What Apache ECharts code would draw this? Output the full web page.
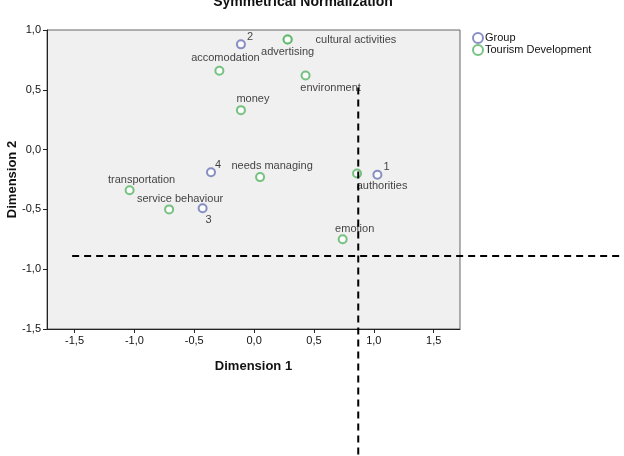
<!DOCTYPE html>
<html>
<head>
<meta charset="utf-8">
<script src="https://cdn.jsdelivr.net/npm/echarts@6/dist/echarts.min.js"></script>
<style>
html, body { margin: 0; padding: 0; background: #fff; }
#main { width: 624px; height: 456px; }
</style>
</head>
<body>
<div id="main"></div>
<script>
// row points (Group)
var groupNames = ['1', '2', '3', '4'];
var groupX = [1.03, -0.11, -0.43, -0.36];
var groupY = [-0.21, 0.88, -0.49, -0.19];

// column points (Tourism Development)
var tourismNames = ['cultural activities', 'advertising', 'accomodation', 'environment', 'money',
	'needs managing', 'authorities', 'transportation', 'service behaviour', 'emotion'];
var tourismX = [0.28, 0.28, -0.29, 0.43, -0.11, 0.05, 0.86, -1.04, -0.71, 0.74];
var tourismY = [0.92, 0.92, 0.66, 0.62, 0.33, -0.23, -0.20, -0.34, -0.50, -0.75];

var xTickValues = [-1.5, -1.0, -0.5, 0, 0.5, 1.0, 1.5];

// hand drawn cut lines
var cutX = 0.87;
var cutY = -0.89;
var cutXFrom = 0.52;
var cutYFrom = -1.52;

var font = 'Liberation Sans, Arial, sans-serif';

// where each point's label sits: [position, offset, distance]
var labelPlace = {
	'1': ['right', [0, -8], 1],
	'2': ['right', [0, -7], 1],
	'3': ['bottom', [6, 0], 1],
	'4': ['right', [-2, -7], 1],
	'cultural activities': ['right', [18, 0], 5],
	'advertising': ['bottom', [0, 1], 1],
	'accomodation': ['top', [6, 0], 2],
	'environment': ['bottom', [25, 0], 2],
	'money': ['top', [12, 0], 1],
	'needs managing': ['top', [12, 0], 1],
	'authorities': ['bottom', [25, 1], 1],
	'transportation': ['top', [12, 2], 2],
	'service behaviour': ['top', [11, 2], 2],
	'emotion': ['top', [12, 1], 1]
};

function buildPoints(names, xs, ys) {
	var out = [];
	for (var i = 0; i < names.length; i++) {
		var p = labelPlace[names[i]];
		out.push({
			name: names[i],
			value: [xs[i], ys[i]],
			label: { position: p[0], offset: p[1], distance: p[2] }
		});
	}
	return out;
}

function fmt(v) {
	return v.toFixed(1).replace('.', ',');
}

var myChart = echarts.init(document.getElementById('main'));
var option = {
	animation: false,
	textStyle: { fontFamily: font },
	title: {
		text: 'Symmetrical Normalization',
		left: 298,
		top: -10,
		textAlign: 'center',
		textStyle: { fontFamily: font, fontSize: 14, fontWeight: 'bold', color: '#111' }
	},
	legend: {
		orient: 'vertical',
		left: 467,
		top: 27,
		itemWidth: 10,
		itemHeight: 10,
		itemGap: 0,
		textStyle: { fontFamily: font, fontSize: 11, lineHeight: 12, color: '#111', padding: [0, 0, 0, -3] },
		data: [
			{ name: 'Group', icon: 'emptyCircle' },
			{ name: 'Tourism Development', icon: 'emptyCircle' }
		]
	},
	grid: {
		left: 47,
		right: 164,
		top: 30,
		bottom: 127,
		outerBoundsMode: 'none',
		containLabel: false,
		show: true,
		backgroundColor: '#f0f0f0',
		borderColor: '#666',
		borderWidth: 1
	},
	xAxis: {
		type: 'value',
		min: -1.73,
		max: 1.72,
		name: 'Dimension 1',
		nameLocation: 'middle',
		nameGap: 31,
		nameMoveOverlap: false,
		nameTextStyle: { fontFamily: font, fontSize: 13, fontWeight: 'bold', color: '#111' },
		axisLine: { onZero: false, lineStyle: { color: '#222' } },
		axisTick: { length: 4, customValues: xTickValues, lineStyle: { color: '#222' } },
		axisLabel: {
			customValues: xTickValues,
			margin: 6,
			fontSize: 11,
			color: '#111',
			formatter: fmt
		},
		splitLine: { show: false }
	},
	yAxis: {
		type: 'value',
		min: -1.5,
		max: 1.0,
		interval: 0.5,
		name: 'Dimension 2',
		nameLocation: 'middle',
		nameGap: 28,
		nameMoveOverlap: false,
		nameTextStyle: { fontFamily: font, fontSize: 13, fontWeight: 'bold', color: '#111' },
		axisLine: { show: true, onZero: false, lineStyle: { color: '#222' } },
		axisTick: { show: true, length: 4, lineStyle: { color: '#222' } },
		axisLabel: { margin: 6, fontSize: 11, color: '#111', formatter: fmt },
		splitLine: { show: false }
	},
	series: [{
		name: 'Group',
		type: 'scatter',
		symbol: 'emptyCircle',
		symbolSize: 8,
		itemStyle: { color: '#6a74b4', borderWidth: 1 },
		label: { show: true, formatter: '{b}', fontFamily: font, fontSize: 11, color: '#111' },
		data: buildPoints(groupNames, groupX, groupY)
	}, {
		name: 'Tourism Development',
		type: 'scatter',
		symbol: 'emptyCircle',
		symbolSize: 8,
		itemStyle: { color: '#55b463', borderWidth: 1 },
		label: { show: true, formatter: '{b}', fontFamily: font, fontSize: 11, color: '#111' },
		data: buildPoints(tourismNames, tourismX, tourismY)
	}]
};
myChart.setOption(option);

// dashed cut lines run past the plot frame, so draw them as graphics
var a = myChart.convertToPixel({ gridIndex: 0 }, [cutX, cutXFrom]);
var b = myChart.convertToPixel({ gridIndex: 0 }, [cutYFrom, cutY]);
var dash = { stroke: '#000', lineWidth: 2, lineDash: [7, 5] };
myChart.setOption({
	graphic: [{
		type: 'line',
		shape: { x1: a[0], y1: a[1], x2: a[0], y2: 456 },
		style: dash,
		z: 100
	}, {
		type: 'line',
		shape: { x1: b[0], y1: b[1], x2: 624, y2: b[1] },
		style: dash,
		z: 100
	}]
});
</script>
</body>
</html>
